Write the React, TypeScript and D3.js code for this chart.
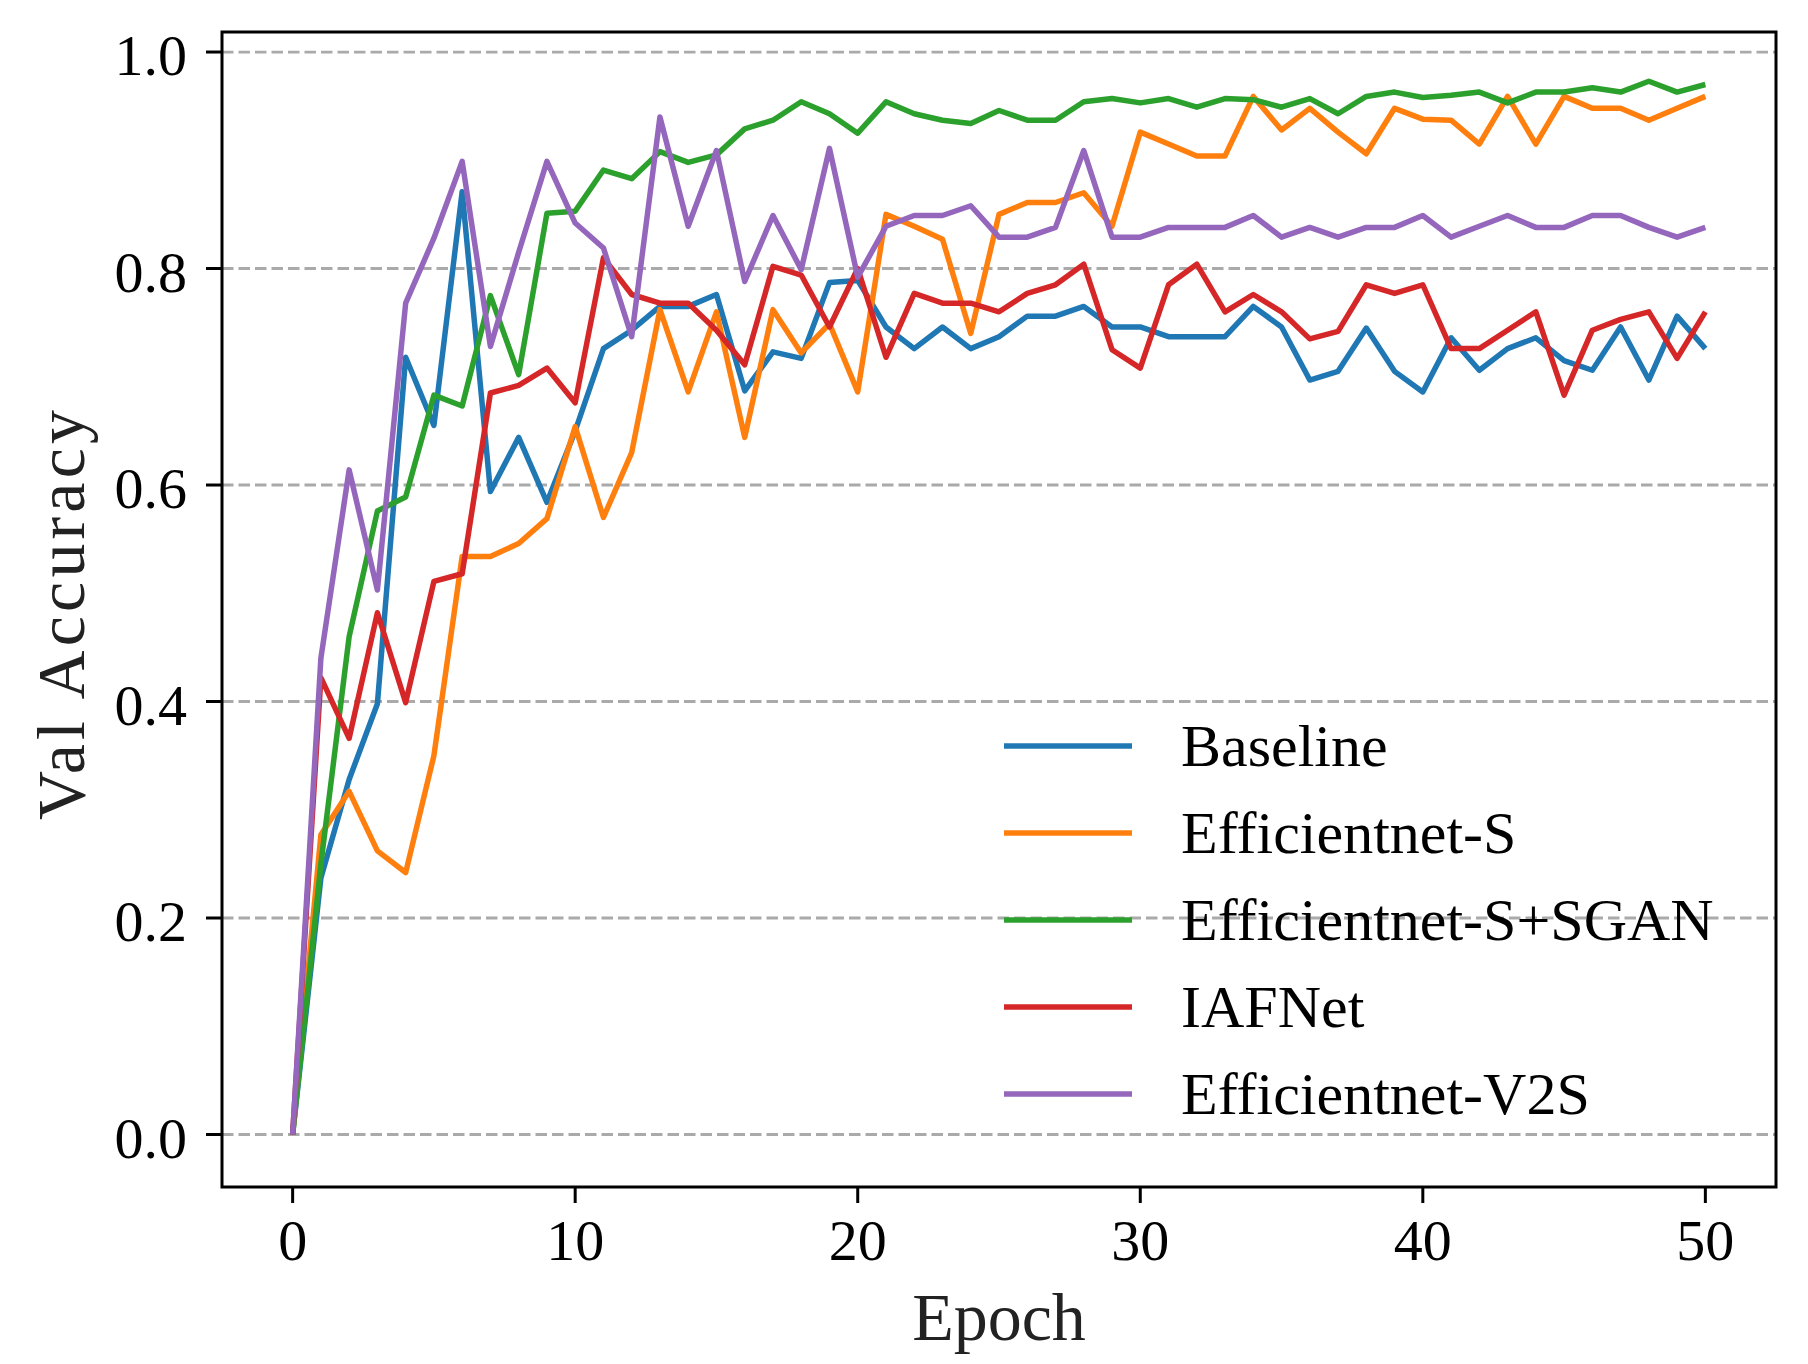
import React from "react";
import * as d3 from "d3";

const epochs = d3.range(0, 51);

const baseline = [0, 0.237, 0.328, 0.398, 0.718, 0.655, 0.871, 0.594, 0.644, 0.584, 0.65, 0.726, 0.743, 0.765, 0.765, 0.776, 0.687, 0.723, 0.717, 0.787, 0.789, 0.746, 0.726, 0.746, 0.726, 0.737, 0.756, 0.756, 0.765, 0.746, 0.746, 0.737, 0.737, 0.737, 0.765, 0.746, 0.697, 0.705, 0.745, 0.705, 0.686, 0.736, 0.706, 0.726, 0.736, 0.715, 0.706, 0.746, 0.697, 0.756, 0.726];
const effS = [0, 0.277, 0.317, 0.262, 0.242, 0.35, 0.534, 0.534, 0.546, 0.569, 0.654, 0.57, 0.63, 0.762, 0.686, 0.76, 0.644, 0.762, 0.722, 0.749, 0.686, 0.85, 0.839, 0.827, 0.74, 0.85, 0.861, 0.861, 0.87, 0.839, 0.926, 0.915, 0.904, 0.904, 0.959, 0.928, 0.948, 0.926, 0.906, 0.948, 0.938, 0.937, 0.915, 0.959, 0.915, 0.959, 0.948, 0.948, 0.937, 0.948, 0.959];
const effSGAN = [0, 0.25, 0.46, 0.576, 0.589, 0.683, 0.673, 0.775, 0.702, 0.851, 0.853, 0.891, 0.883, 0.908, 0.898, 0.905, 0.929, 0.937, 0.954, 0.943, 0.925, 0.954, 0.943, 0.937, 0.934, 0.946, 0.937, 0.937, 0.954, 0.957, 0.953, 0.957, 0.949, 0.957, 0.956, 0.949, 0.957, 0.943, 0.959, 0.963, 0.958, 0.96, 0.963, 0.953, 0.963, 0.963, 0.967, 0.963, 0.973, 0.963, 0.97];
const iafnet = [0, 0.422, 0.366, 0.482, 0.399, 0.511, 0.518, 0.685, 0.692, 0.708, 0.676, 0.81, 0.776, 0.768, 0.768, 0.743, 0.711, 0.802, 0.794, 0.746, 0.8, 0.718, 0.777, 0.768, 0.768, 0.76, 0.777, 0.785, 0.804, 0.725, 0.708, 0.785, 0.804, 0.76, 0.776, 0.76, 0.735, 0.742, 0.785, 0.777, 0.785, 0.726, 0.726, 0.743, 0.76, 0.683, 0.743, 0.753, 0.76, 0.717, 0.76];
const effV2S = [0, 0.44, 0.614, 0.503, 0.768, 0.828, 0.899, 0.728, 0.815, 0.899, 0.842, 0.819, 0.737, 0.94, 0.839, 0.909, 0.788, 0.849, 0.799, 0.911, 0.792, 0.839, 0.849, 0.849, 0.858, 0.829, 0.829, 0.838, 0.909, 0.829, 0.829, 0.838, 0.838, 0.838, 0.849, 0.829, 0.838, 0.829, 0.838, 0.838, 0.849, 0.829, 0.839, 0.849, 0.838, 0.838, 0.849, 0.849, 0.838, 0.829, 0.838];

const seriesNames = ["Baseline", "Efficientnet-S", "Efficientnet-S+SGAN", "IAFNet", "Efficientnet-V2S"];
const seriesValues = [baseline, effS, effSGAN, iafnet, effV2S];
const seriesColors = ["#1f77b4", "#ff7f0e", "#2ca02c", "#d62728", "#9467bd"];

const xTicks = [0, 10, 20, 30, 40, 50];
const yTicks = [0.0, 0.2, 0.4, 0.6, 0.8, 1.0];
const xLabel = "Epoch";
const yLabel = "Val Accuracy";

const W = 1808;
const H = 1364;
const left = 222;
const right = 1776;
const top = 32;
const bottom = 1187;
const FONT = "'Liberation Serif', 'Times New Roman', serif";

export default function App() {
  const x = d3.scaleLinear().domain([-2.5, 52.5]).range([left, right]);
  const y = d3.scaleLinear().domain([-0.0485, 1.0185]).range([bottom, top]);

  const line = (vals: number[]) =>
    d3
      .line<number>()
      .x((_, i) => x(epochs[i]))
      .y((d) => y(d))(vals) as string;

  const legendX0 = 1004;
  const legendX1 = 1132;
  const legendTextX = 1181;
  const legendY0 = 746;
  const legendDy = 87;
  const lw = 5.5;

  return (
    <svg
      width={W}
      height={H}
      style={{ position: "absolute", left: 0, top: 0, background: "#fff" }}
      fontFamily={FONT}
    >
      <rect x={0} y={0} width={W} height={H} fill="#fff" />
      <defs>
        <clipPath id="clip">
          <rect x={left} y={top} width={right - left} height={bottom - top} />
        </clipPath>
      </defs>
      {yTicks.map((t) => (
        <line
          key={"g" + t}
          x1={left}
          x2={right}
          y1={y(t)}
          y2={y(t)}
          stroke="#aaaaaa"
          strokeWidth={2.8}
          strokeDasharray="11.5,5"
        />
      ))}
      <g clipPath="url(#clip)">
        {seriesValues.map((vals, i) => (
          <path
            key={seriesNames[i]}
            d={line(vals)}
            fill="none"
            stroke={seriesColors[i]}
            strokeWidth={lw}
            strokeLinejoin="round"
            strokeLinecap="butt"
          />
        ))}
      </g>
      {seriesNames.map((name, i) => (
        <g key={"l" + name}>
          <line
            x1={legendX0}
            x2={legendX1}
            y1={legendY0 + i * legendDy}
            y2={legendY0 + i * legendDy}
            stroke={seriesColors[i]}
            strokeWidth={lw}
          />
          <text x={legendTextX} y={legendY0 + i * legendDy + 20} fontSize={60} fill="#000">
            {name}
          </text>
        </g>
      ))}
      <rect
        x={left}
        y={top}
        width={right - left}
        height={bottom - top}
        fill="none"
        stroke="#000"
        strokeWidth={3}
      />
      {yTicks.map((t) => (
        <g key={"yt" + t}>
          <line x1={left - 16} x2={left} y1={y(t)} y2={y(t)} stroke="#000" strokeWidth={3} />
          <text x={187} y={y(t) + 23} fontSize={58} textAnchor="end" fill="#000">
            {t.toFixed(1)}
          </text>
        </g>
      ))}
      {xTicks.map((t) => (
        <g key={"xt" + t}>
          <line x1={x(t)} x2={x(t)} y1={bottom} y2={bottom + 16} stroke="#000" strokeWidth={3} />
          <text x={x(t)} y={1260} fontSize={58} textAnchor="middle" fill="#000">
            {t}
          </text>
        </g>
      ))}
      <text x={(left + right) / 2} y={1340} fontSize={68} textAnchor="middle" fill="#222">
        {xLabel}
      </text>
      <text
        transform={`translate(84, 615) rotate(-90)`}
        fontSize={68}
        textAnchor="middle"
        fill="#222"
        textLength={410}
        lengthAdjust="spacing"
      >
        {yLabel}
      </text>
    </svg>
  );
}
